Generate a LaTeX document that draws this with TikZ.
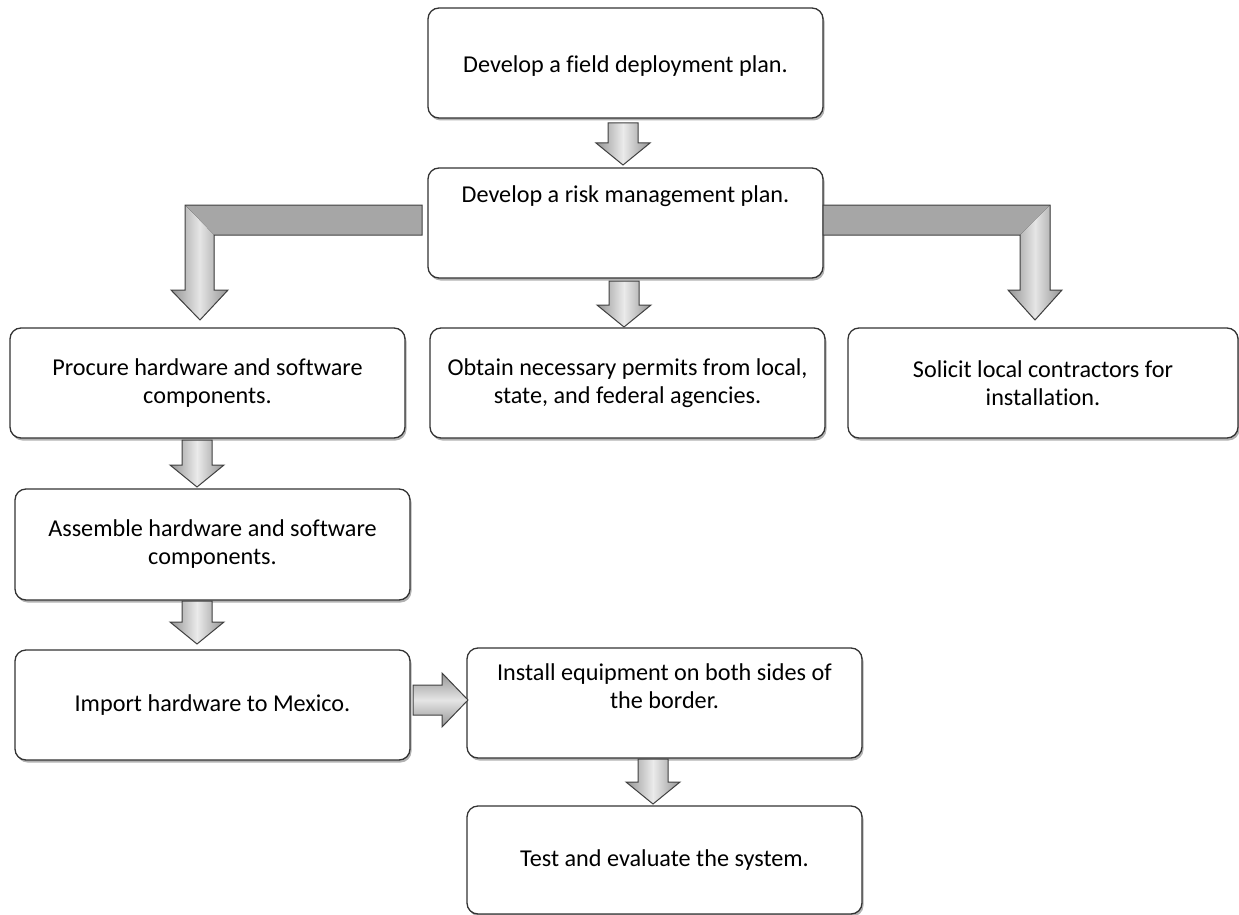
\documentclass[tikz,border=0pt]{standalone}
\usepackage{fontspec}
\setmainfont[Ligatures=NoCommon]{Carlito}
\usetikzlibrary{shadows,calc}
\tikzset{
  box/.style={draw=black!80, line width=1.3pt, rounded corners=11pt, fill=white,
    align=center, inner sep=0pt, outer sep=0pt,
    font=\fontsize{24.2}{28}\selectfont,
    drop shadow={shadow xshift=1.5pt, shadow yshift=-2.5pt, opacity=0.3, fill=black}},
  blk/.style={draw=black!75, line width=1pt, line join=miter},
  vshade/.style={blk, left color=black!42, right color=black!42, middle color=black!8},
  vshadefill/.style={left color=black!42, right color=black!42, middle color=black!10},
  hshade/.style={blk, top color=black!42, bottom color=black!42, middle color=black!10},
  txt/.style={font=\fontsize{24.2}{28}\selectfont, align=center}
}
\newcommand\dnarrow[3]{% center x, top y, tip y
  \path[vshade] (#1-15,#2) -- (#1+15,#2) -- (#1+15,#3-22) -- (#1+27,#3-22) -- (#1,#3)
    -- (#1-27,#3-22) -- (#1-15,#3-22) -- cycle;}
\begin{document}
\begin{tikzpicture}[x=1pt,y=-1pt]
\useasboundingbox (0,0) rectangle (1239,915);

% boxes
\node[box, minimum width=395pt, minimum height=110pt] (b1) at (625.5,63) {};
\node[txt] (t1) at ($(b1.center)+(0,3)$) {Develop a field deployment plan.};
\node[box, minimum width=395pt, minimum height=110pt] (b2) at (625.5,223) {};
\node[txt] (t2) at ($(b2.center)+(0,-27)$) {Develop a risk management plan.};
\node[box, minimum width=395pt, minimum height=110pt] (b3) at (207.5,383) {Procure hardware and software\\components.};
\node[box, minimum width=395pt, minimum height=110pt] (b4) at (627.5,383) {Obtain necessary permits from local,\\state, and federal agencies.};
\node[box, minimum width=390pt, minimum height=110pt] (b5) at (1043,383) {Solicit local contractors for\\installation.};
\node[box, minimum width=395pt, minimum height=111pt] (b6) at (212.5,544.5) {Assemble hardware and software\\components.};
\node[box, minimum width=395pt, minimum height=110pt] (b7) at (212.5,705) {Import hardware to Mexico.};
\node[box, minimum width=395pt, minimum height=110pt] (b8) at (664.5,703) {};
\node[txt] (t8) at ($(b8.center)+(0,-17)$) {Install equipment on both sides of\\the border.};
\node[box, minimum width=395pt, minimum height=108pt] (b9) at (664.5,860) {Test and evaluate the system.};

% straight block arrows
\dnarrow{623}{123}{165}
\dnarrow{624}{281}{327}
\dnarrow{197}{440}{487}
\dnarrow{197}{601}{644}
\dnarrow{653}{759}{804}
\path[hshade] (413,685) -- (442,685) -- (442,673) -- (468,700) -- (442,727) -- (442,715) -- (413,715) -- cycle;

% bent block arrows
\fill[black!35] (422,205) -- (185,205) -- (185,235) -- (214,235) -- (422,235) -- cycle;
\fill[vshadefill] (185,205) -- (185,290) -- (171,290) -- (200,320) -- (228,290) -- (214,290) -- (214,235) -- cycle;
\draw[blk] (422,205) -- (185,205) -- (185,290) -- (171,290) -- (200,320) -- (228,290)
  -- (214,290) -- (214,235) -- (422,235) -- cycle;
\fill[black!35] (823,205) -- (1050,205) -- (1020,235) -- (823,235) -- cycle;
\fill[vshadefill] (1050,205) -- (1050,290) -- (1062,290) -- (1035,320) -- (1008,290) -- (1020,290) -- (1020,235) -- cycle;
\draw[blk] (823,205) -- (1050,205) -- (1050,290) -- (1062,290) -- (1035,320) -- (1008,290)
  -- (1020,290) -- (1020,235) -- (823,235) -- cycle;
\end{tikzpicture}
\end{document}
